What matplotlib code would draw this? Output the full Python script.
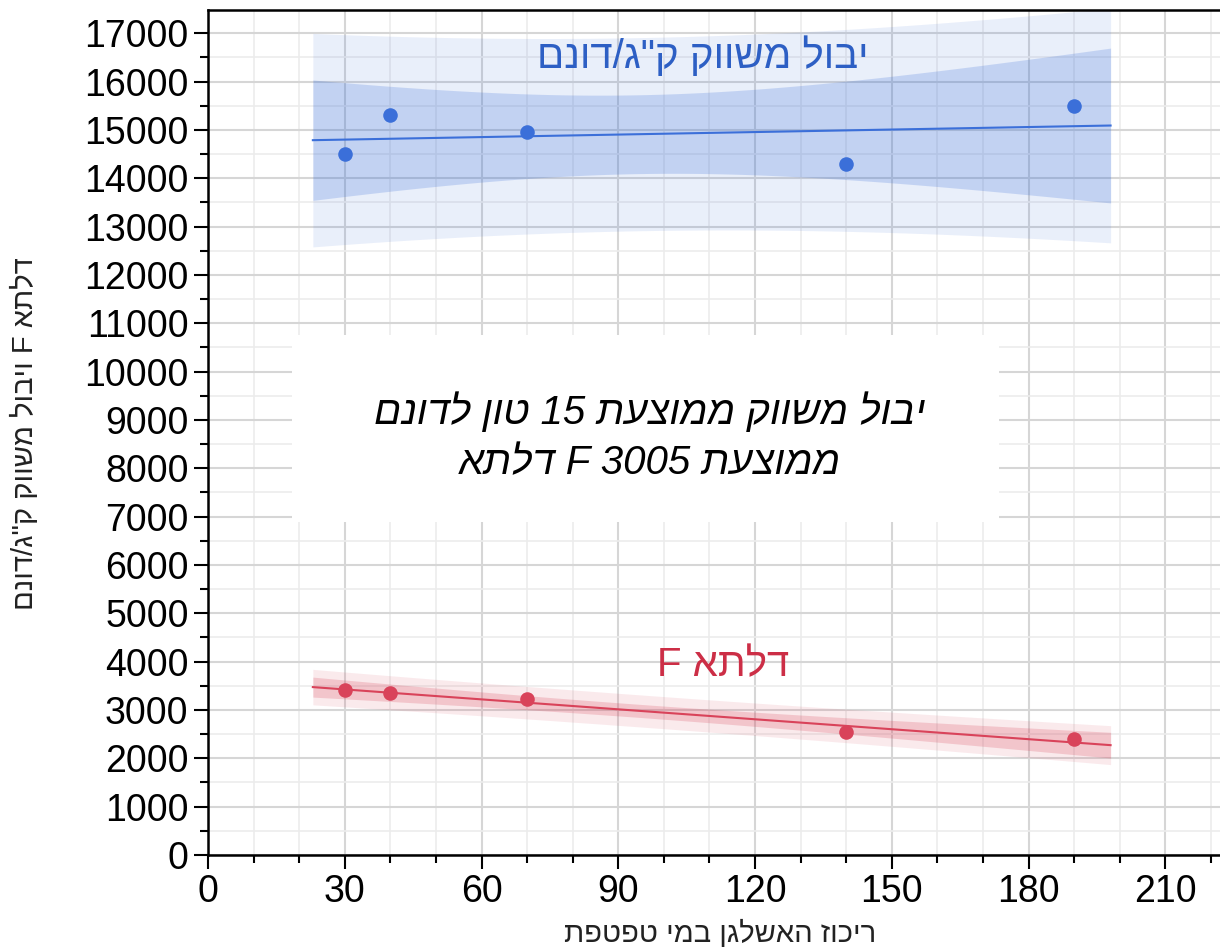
import numpy as np
import matplotlib
matplotlib.use('Agg')
import matplotlib.pyplot as plt
from matplotlib.ticker import MultipleLocator

plt.rcParams['font.family'] = ['Liberation Sans', 'DejaVu Sans']

# data
x_conc = [30, 40, 70, 140, 190]
yield_kg = [14500, 15300, 14950, 14300, 15500]
delta_f = [3420, 3350, 3220, 2540, 2400]

band_x0, band_x1 = 23, 198
t_95 = 3.182  # t value, 3 degrees of freedom

title_lines = ['יבול משווק ממוצעת 15 טון לדונם', 'ממוצעת 3005 F דלתא']
blue_label = 'יבול משווק ק"ג/דונם'
red_label = 'דלתא F'
x_label = 'ריכוז האשלגן במי טפטפת'
y_label = 'דלתא F ויבול משווק ק"ג/דונם'


def heb(s):
    # matplotlib has no bidi, so put the words in visual order by hand
    out = []
    for w in s.split(' ')[::-1]:
        if any('\u0590' <= c <= '\u05ff' for c in w):
            out.append(w[::-1])
        else:
            out.append(w)
    return ' '.join(out)


def fit_bands(x, y, xs):
    x = np.asarray(x, float)
    y = np.asarray(y, float)
    n = len(x)
    b, a = np.polyfit(x, y, 1)
    s = np.sqrt(np.sum((y - (a + b * x)) ** 2) / (n - 2))
    sxx = np.sum((x - x.mean()) ** 2)
    fit = a + b * xs
    se = np.sqrt(1.0 / n + (xs - x.mean()) ** 2 / sxx)
    ci = t_95 * s * se
    pi = t_95 * s * np.sqrt(1 + se ** 2)
    return fit, ci, pi


fig = plt.figure(figsize=(12.2, 9.49), dpi=100)
ax = fig.add_axes([208 / 1220, 94 / 949, 1 - 208 / 1220, 845 / 949])

xs = np.linspace(band_x0, band_x1, 200)
for yv, col in [(yield_kg, '#3b6fd9'), (delta_f, '#d9435a')]:
    fit, ci, pi = fit_bands(x_conc, yv, xs)
    ax.fill_between(xs, fit - pi, fit + pi, color=col, alpha=0.11, lw=0, zorder=2)
    ax.fill_between(xs, fit - ci, fit + ci, color=col, alpha=0.22, lw=0, zorder=2)
    ax.plot(xs, fit, color=col, lw=1.5, zorder=3)
    ax.scatter(x_conc, yv, s=110, color=col, zorder=4, lw=0)

ax.set_xlim(0, 222)
ax.set_ylim(0, 17480)
ax.xaxis.set_major_locator(MultipleLocator(30))
ax.xaxis.set_minor_locator(MultipleLocator(10))
ax.yaxis.set_major_locator(MultipleLocator(1000))
ax.yaxis.set_minor_locator(MultipleLocator(500))
ax.set_axisbelow(True)
ax.grid(which='major', color='#d6d6d6', lw=1.5, zorder=0)
ax.grid(which='minor', color='#ececec', lw=1.2, zorder=0)
ax.tick_params(which='major', length=10, width=1.5, labelsize=27, pad=4)
ax.tick_params(which='minor', length=6, width=1.5)
for side in ['left', 'bottom', 'top']:
    ax.spines[side].set_linewidth(1.8)
ax.spines['right'].set_visible(False)

# white box with the summary text
ax.axvspan(18.5, 173.5, ymin=(855 - 522) / 845, ymax=(855 - 335) / 845,
           color='white', lw=0, zorder=1.5)
ax.text(97, 9180, heb(title_lines[0]), ha='center', va='center',
        fontsize=29, style='italic', zorder=5)
ax.text(97, 8100, heb(title_lines[1]), ha='center', va='center',
        fontsize=29, style='italic', zorder=5)

ax.text(108.5, 16540, heb(blue_label), ha='center', va='center',
        fontsize=29, color='#2d5fc4', zorder=5)
ax.text(113, 3920, heb(red_label), ha='center', va='center',
        fontsize=29, color='#cc2e46', zorder=5)

fig.text(720 / 1220, 1 - 934 / 949, heb(x_label), ha='center', va='center',
         fontsize=21, color='#222222')
fig.text(25 / 1220, 1 - 434 / 949, heb(y_label), ha='center', va='center',
         fontsize=21, rotation=90, color='#222222')

fig.savefig('out.png', dpi=100)
